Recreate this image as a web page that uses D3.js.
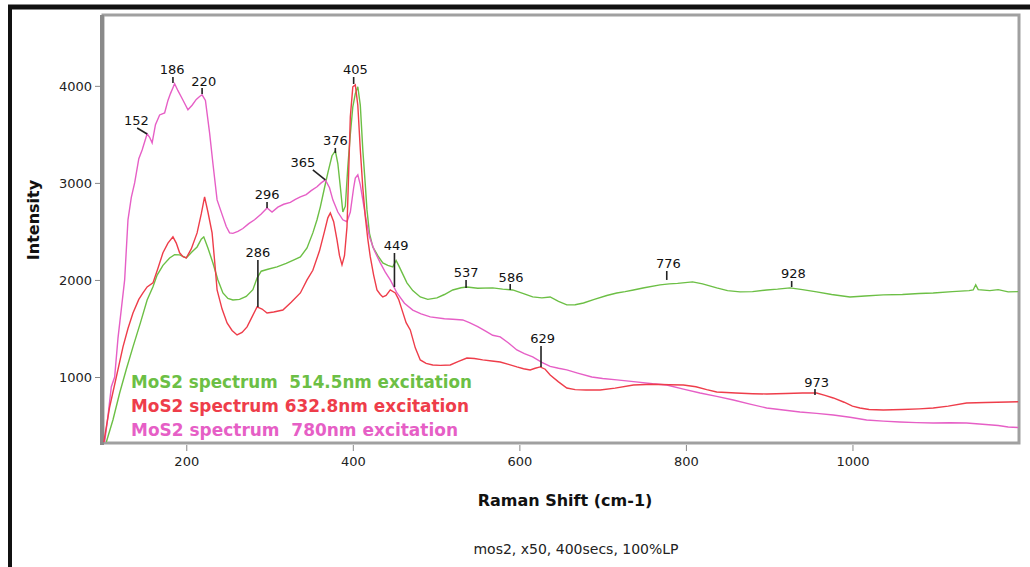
<!DOCTYPE html>
<html>
<head>
<meta charset="utf-8">
<style>
  body { margin: 0; background: #fff; }
  svg { display: block; }
  text { font-family: "DejaVu Sans", sans-serif; }
</style>
</head>
<body>
<svg id="chart" width="1030" height="567"></svg>
<script src="https://cdn.jsdelivr.net/npm/d3@7"></script>
<script>
// spectra: Raman shift (cm-1) and intensity
const greenShift = [104,112,120,128,136,145,153,160,165,172,180,186,192,200,207,213,218,221,226,232,238,244,250,256,264,272,280,285,290,298,309,320,330,337,345,352,357,361,366,370,375,379,382,385,388,391,394,397,400,403,406,409,412,415,417,420,424,430,436,442,448,452,455,460,465,472,481,490,501,510,520,530,537,550,568,580,592,605,616,627,637,647,657,667,677,690,705,717,727,737,750,769,780,790,808,820,837,850,865,880,897,910,925,940,957,975,997,1015,1037,1060,1080,1097,1120,1140,1145,1148,1151,1165,1175,1187,1199];
const greenInt = [330,560,835,1080,1310,1560,1794,1930,2050,2150,2227,2260,2258,2227,2290,2340,2420,2444,2330,2175,2000,1866,1810,1794,1800,1830,1900,2020,2090,2110,2134,2170,2210,2237,2330,2485,2620,2753,2950,3103,3280,3330,3200,2960,2700,2760,3165,3500,3784,3920,3990,3800,3340,2980,2722,2480,2340,2250,2176,2150,2134,2200,2150,2060,1970,1890,1825,1800,1815,1850,1897,1920,1928,1915,1918,1905,1897,1860,1825,1815,1825,1780,1743,1745,1763,1800,1840,1866,1880,1897,1920,1949,1960,1965,1980,1960,1918,1890,1877,1880,1897,1905,1918,1900,1877,1850,1825,1835,1846,1850,1860,1866,1880,1890,1897,1950,1900,1890,1900,1877,1880];

const redShift = [101,108,116,124,130,136,143,148,153,160,166,172,178,184,188,192,196,200,206,213,218,222,226,231,234,237,243,249,255,261,267,273,279,285,291,297,305,316,326,337,345,352,360,366,370,373,377,381,384,387,390,393,395,397,400,403,406,409,412,415,418,421,425,429,433,436,440,445,451,455,458,464,469,475,481,488,496,505,517,527,537,546,556,567,577,587,597,605,613,619,625,631,637,647,657,667,680,697,715,737,760,780,797,812,825,837,860,880,897,920,940,957,967,977,990,1000,1009,1020,1037,1060,1080,1097,1115,1137,1160,1187,1199];
const redInt = [330,691,1000,1310,1500,1660,1800,1866,1928,1970,2120,2280,2380,2444,2380,2280,2240,2227,2320,2485,2680,2856,2700,2485,2200,1897,1700,1557,1480,1433,1460,1516,1620,1722,1700,1660,1670,1690,1770,1866,2000,2100,2300,2500,2640,2691,2600,2413,2250,2155,2250,2547,3100,3680,3990,4010,3800,3340,2950,2650,2420,2237,2050,1897,1850,1825,1840,1897,1866,1800,1720,1560,1485,1300,1176,1140,1124,1120,1124,1160,1196,1190,1176,1165,1155,1130,1104,1085,1073,1090,1104,1080,1021,950,887,870,866,866,885,918,925,920,918,900,870,846,835,828,825,830,835,835,810,784,740,700,681,665,660,665,672,681,700,732,738,743,745];

const pinkShift = [102,106,110,114,118,122,126,130,134,138,143,147,153,156,159,163,168,174,178,181,184,186,190,195,202,207,212,216,219,223,228,232,237,244,248,252,256,262,268,275,282,290,297,303,310,317,325,331,337,344,350,357,362,367,372,376,382,388,393,397,401,403,406,409,412,416,420,426,433,439,445,453,462,472,482,493,510,520,532,540,550,560,568,577,587,597,606,616,627,637,647,657,670,687,700,717,740,760,777,797,817,837,857,877,897,917,937,957,977,997,1017,1037,1057,1077,1097,1117,1137,1160,1175,1187,1199];
const pinkInt = [330,600,900,1000,1400,1700,2000,2620,2850,3000,3250,3340,3506,3470,3413,3600,3700,3720,3850,3920,3980,4021,3950,3870,3753,3800,3860,3890,3908,3850,3516,3200,2825,2650,2550,2485,2480,2500,2530,2580,2620,2680,2742,2700,2750,2780,2800,2830,2856,2880,2920,2960,3000,3031,2950,2825,2700,2620,2600,2700,2950,3050,3083,2980,2825,2620,2444,2300,2176,2080,2000,1866,1760,1690,1650,1619,1600,1595,1588,1560,1520,1470,1430,1413,1350,1279,1240,1207,1150,1110,1090,1073,1040,1000,985,970,950,930,918,875,835,800,763,720,681,660,640,625,609,585,557,545,536,530,526,528,526,510,500,485,480];

const seriesNames = ["MoS2 spectrum  514.5nm excitation", "MoS2 spectrum 632.8nm excitation", "MoS2 spectrum  780nm excitation"];
const seriesColors = ["#6cbf45", "#ee3d4a", "#e65fc6"];

const xTicks = [200, 400, 600, 800, 1000];
const yTicks = [1000, 2000, 3000, 4000];

// peak labels: text, label x / y, pointer from (x1,y1) to (x2,y2)
const peakText = ["152","186","220","296","365","376","405","286","449","537","586","776","928","629","973"];
const peakTx = [140,183,221,297,340,379,403,286,452,536,590,779,929,628,957];
const peakTy = [3597,4122,4000,2834,3164,3391,4122,2237,2309,2031,1979,2123,2020,1350,897];
const peakX1 = [141,184,219,297,352,379,401,286,450,536,589,777,927,626,955];
const peakY1 = [3566,4091,3978,2803,3133,3360,4091,2206,2278,2000,1958,2092,1989,1319,876];
const peakX2 = [153,184,219,297,367,379,401,286,450,536,589,777,927,626,955];
const peakY2 = [3504,4029,3916,2741,3030,3308,4019,1721,1927,1917,1897,2000,1927,1103,815];

const svg = d3.select("#chart");

const x = d3.scaleLinear().domain([100, 1200]).range([103, 1019]);
const y = d3.scaleLinear().domain([320, 4730]).range([443, 15]);

// outer black frame of the scan
svg.append("line").attr("x1", 8).attr("x2", 1030).attr("y1", 7).attr("y2", 7)
   .attr("stroke", "#111").attr("stroke-width", 5);
svg.append("line").attr("x1", 10).attr("x2", 10).attr("y1", 5).attr("y2", 567)
   .attr("stroke", "#111").attr("stroke-width", 4);

// plot frame
svg.append("rect").attr("x", x(100)).attr("y", y(4730))
   .attr("width", x(1200) - x(100)).attr("height", y(320) - y(4730))
   .attr("fill", "none").attr("stroke", "#a0a0a0").attr("stroke-width", 3);
svg.append("line").attr("x1", x(100) - 1).attr("x2", x(100) - 1)
   .attr("y1", y(4730)).attr("y2", y(320) + 2)
   .attr("stroke", "#8a8a8a").attr("stroke-width", 4);

const xAxis = svg.append("g").attr("transform", `translate(0,${y(320) + 2})`)
  .call(d3.axisBottom(x).tickValues(xTicks).tickSize(6).tickPadding(6).tickFormat(d3.format("d")));
const yAxis = svg.append("g").attr("transform", `translate(${x(100) - 3},0)`)
  .call(d3.axisLeft(y).tickValues(yTicks).tickSize(5).tickPadding(3).tickFormat(d3.format("d")));
[xAxis, yAxis].forEach(a => {
  a.select(".domain").remove();
  a.selectAll(".tick line").attr("stroke", "#888");
  a.selectAll(".tick text").attr("fill", "#222").style("font-size", "13px").style("font-family", "DejaVu Sans");
});

const line = d3.line().x(d => x(d[0])).y(d => y(d[1]));
const zip = (a, b) => a.map((v, i) => [v, b[i]]);
const spectra = [zip(greenShift, greenInt), zip(pinkShift, pinkInt), zip(redShift, redInt)];
const spectraColors = [seriesColors[0], seriesColors[2], seriesColors[1]];

svg.append("g").selectAll("path").data(spectra).join("path")
   .attr("d", line).attr("fill", "none")
   .attr("stroke", (d, i) => spectraColors[i]).attr("stroke-width", 1.4);

// peak annotations
const peaks = svg.append("g");
peakText.forEach((t, i) => {
  peaks.append("line")
    .attr("x1", x(peakX1[i])).attr("y1", y(peakY1[i]))
    .attr("x2", x(peakX2[i])).attr("y2", y(peakY2[i]))
    .attr("stroke", "#222").attr("stroke-width", 1.6);
  peaks.append("text").attr("x", x(peakTx[i])).attr("y", y(peakTy[i]))
    .attr("text-anchor", "middle").attr("fill", "#111").style("font-size", "13px")
    .text(t);
});

// legend
const legendY = [388, 412, 436];
const legendW = [341, 338, 327];
svg.append("g").selectAll("text").data(seriesNames).join("text")
   .attr("x", 131).attr("y", (d, i) => legendY[i])
   .attr("textLength", (d, i) => legendW[i]).attr("lengthAdjust", "spacingAndGlyphs")
   .attr("fill", (d, i) => seriesColors[i])
   .style("font-size", "17px").style("font-weight", "bold").style("white-space", "pre")
   .text(d => d);

svg.append("text").attr("x", 33).attr("y", 220)
   .attr("transform", "rotate(-90,33,220)").attr("text-anchor", "middle").attr("dy", "0.35em")
   .style("font-size", "16px").style("font-weight", "bold").attr("fill", "#111")
   .text("Intensity");
svg.append("text").attr("x", 565).attr("y", 506).attr("text-anchor", "middle")
   .style("font-size", "16px").style("font-weight", "bold").attr("fill", "#111")
   .text("Raman Shift (cm-1)");
svg.append("text").attr("x", 576).attr("y", 554).attr("text-anchor", "middle")
   .style("font-size", "14px").attr("fill", "#222")
   .text("mos2, x50, 400secs, 100%LP");
</script>
</body>
</html>
